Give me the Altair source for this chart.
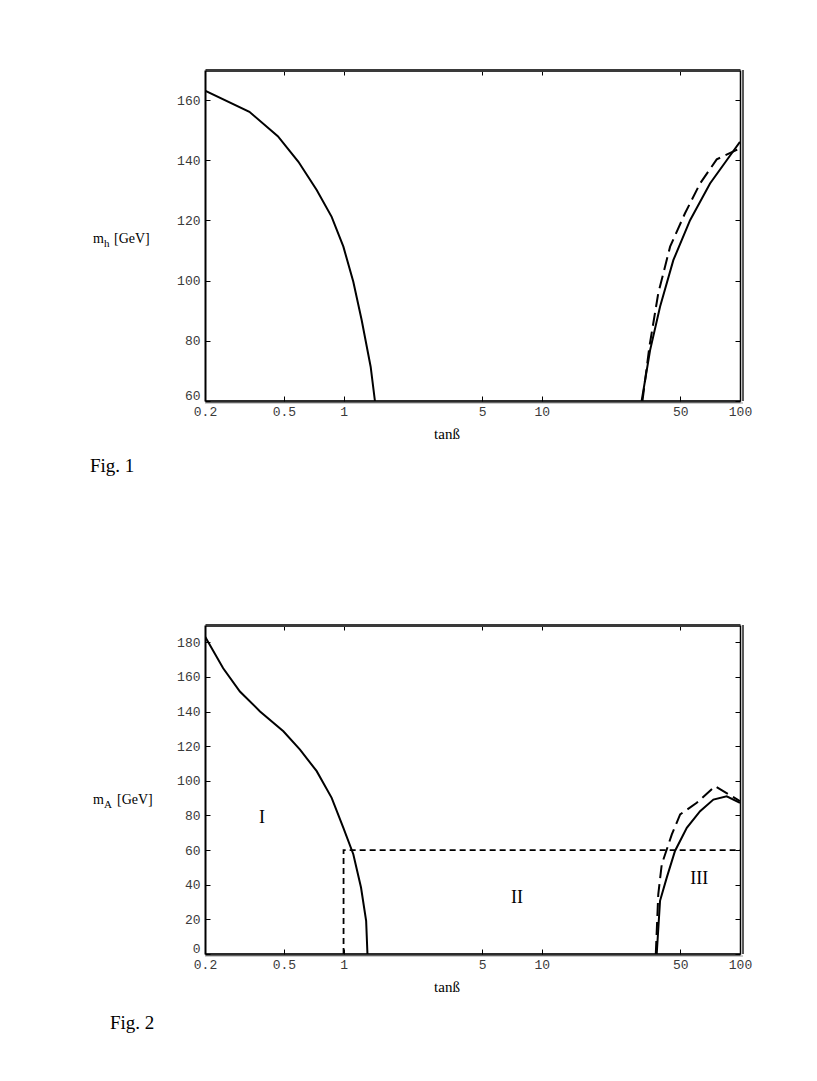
import altair as alt
import pandas as pd

# ---------------- data ----------------
# Fig. 1 : m_h vs tan(beta)
tan1_left = [0.2, 0.335, 0.466, 0.592, 0.732, 0.871, 0.998, 1.12, 1.234, 1.37, 1.44]
mh1_left = [163.1, 156.1, 148.0, 139.5, 130.1, 121.2, 111.3, 99.6, 86.9, 71.4, 60.0]

tan1_right = [31.9, 35.2, 39.5, 46.1, 56.0, 70.6, 85.7, 100.0]
mh1_right = [60.0, 76.9, 91.3, 106.8, 120.1, 132.3, 140.0, 146.1]

tan1_dash = [32.2, 34.9, 38.7, 44.4, 52.8, 62.9, 76.3, 100.0]
mh1_dash = [60.0, 78.0, 95.8, 111.3, 122.4, 132.3, 140.3, 144.0]

# Fig. 2 : m_A vs tan(beta)
tan2_left = [0.2, 0.247, 0.30, 0.379, 0.497, 0.603, 0.732, 0.871, 0.998, 1.12, 1.225, 1.30, 1.32]
mA2_left = [183.3, 165.0, 151.6, 140.1, 128.6, 118.0, 105.6, 90.2, 72.9, 57.6, 38.4, 19.2, 0.0]

tan2_right = [38.0, 39.5, 42.7, 47.0, 53.9, 62.9, 73.4, 85.7, 100.0]
mA2_right = [0.0, 30.7, 44.1, 59.5, 72.9, 82.5, 89.2, 91.1, 87.3]

tan2_dash = [37.6, 38.7, 40.3, 45.3, 49.9, 60.5, 74.8, 100.0]
mA2_dash = [0.0, 34.5, 51.8, 69.1, 80.6, 87.3, 96.9, 88.3]

# short-dashed boundary of region II
box_tan = [1.0, 1.0, 100.0]
box_m = [0.0, 60.0, 60.0]

# region labels
region_text = ["I", "II", "III"]
region_tan = [0.388, 7.5, 62.2]
region_m = [78.5, 32.4, 43.4]

# ticks
x_ticks = [0.2, 0.5, 1, 5, 10, 50, 100]
x_inner_ticks = [0.5, 1, 5, 10, 50]
y1_ticks = [60, 80, 100, 120, 140, 160]
y2_ticks = [0, 20, 40, 60, 80, 100, 120, 140, 160, 180]

# ---------------- layout ----------------
W = 535
H1 = 331
H2 = 329
MONO = "Liberation Mono"
SERIF = "Liberation Serif"


def curves(pairs):
    rows = []
    for name, xs, ys in pairs:
        for i, (a, b) in enumerate(zip(xs, ys)):
            rows.append({"series": name, "idx": i, "tan": a, "m": b})
    return pd.DataFrame(rows)


def build(H, ydom, yticks, solid_pairs, dash_pairs, ylab_sub, fig_text, fig_x, fig_dy,
          ylab_y, extra_layers):
    xs = alt.Scale(type="log", domain=[0.2, 100], nice=False)
    ys = alt.Scale(domain=ydom, nice=False, zero=False)

    main_x = alt.Axis(orient="bottom", values=x_ticks, format="~g", ticks=False,
                      domain=True, domainColor="#2b2b2b", domainWidth=3,
                      labelFont=MONO, labelFontSize=13, labelColor="#3a3a3a",
                      labelPadding=4, labelOverlap=False, labelFlush=False,
                      grid=False, title=None)
    main_y = alt.Axis(orient="left", values=yticks, ticks=False, domain=True,
                      domainColor="black", domainWidth=2, labelFont=MONO,
                      labelFontSize=13, labelColor="#3a3a3a", labelPadding=5,
                      labelOverlap=False, labelFlush=True, labelFlushOffset=1,
                      grid=False, title=None)
    up_x = alt.Axis(orient="top", offset=-H, values=x_inner_ticks, labels=False,
                    domain=False, ticks=True, tickSize=5, tickColor="black",
                    grid=False, title=None)
    down_x = alt.Axis(orient="bottom", offset=-H, values=x_inner_ticks, labels=False,
                      domain=True, domainColor="#3a3a3a", domainWidth=3, ticks=True,
                      tickSize=5, tickColor="black", grid=False, title=None)
    right_y = alt.Axis(orient="right", offset=-W, values=yticks, labels=False,
                       domain=False, ticks=True, tickSize=5, tickColor="black",
                       grid=False, title=None)
    left_y = alt.Axis(orient="left", offset=-W, values=yticks, labels=False,
                      domain=True, domainColor="black", domainWidth=1.5, ticks=True,
                      tickSize=5, tickColor="black", grid=False, title=None)

    solid = alt.Chart(curves(solid_pairs)).mark_line(
        color="black", strokeWidth=2, clip=True
    ).encode(
        x=alt.X("tan:Q", scale=xs, axis=main_x),
        y=alt.Y("m:Q", scale=ys, axis=main_y),
        detail="series:N",
        order="idx:O",
    )
    dashed = alt.Chart(curves(dash_pairs)).mark_line(
        color="black", strokeWidth=2, strokeDash=[13, 6], clip=True
    ).encode(
        x=alt.X("tan:Q", scale=xs, axis=up_x),
        y=alt.Y("m:Q", scale=ys, axis=right_y),
        detail="series:N",
        order="idx:O",
    )
    tickframe = alt.Chart(pd.DataFrame({"tan": [0.2, 100], "m": [ydom[0], ydom[1]]})).mark_point(
        opacity=0
    ).encode(
        x=alt.X("tan:Q", scale=xs, axis=down_x),
        y=alt.Y("m:Q", scale=ys, axis=left_y),
    )
    one = pd.DataFrame({"k": [0]})
    right2 = alt.Chart(one).mark_rule(color="black", strokeWidth=1.3).encode(
        x=alt.value(W + 3), y=alt.value(0), y2=alt.value(H)
    )
    bottom2 = alt.Chart(one).mark_rule(color="#9a9a9a", strokeWidth=1).encode(
        x=alt.value(0), x2=alt.value(W + 3), y=alt.value(H + 2)
    )
    m_main = alt.Chart(one).mark_text(font=SERIF, fontSize=14, align="left",
                                      baseline="alphabetic", color="black").encode(
        x=alt.value(-112), y=alt.value(ylab_y), text=alt.value("m"))
    m_sub = alt.Chart(one).mark_text(font=SERIF, fontSize=11, align="left",
                                     baseline="alphabetic", color="black").encode(
        x=alt.value(-101), y=alt.value(ylab_y + 4), text=alt.value(ylab_sub))
    m_unit = alt.Chart(one).mark_text(font=SERIF, fontSize=14, align="left",
                                      baseline="alphabetic", color="black").encode(
        x=alt.value(-91 + (3 if ylab_sub == "A" else 0)), y=alt.value(ylab_y),
        text=alt.value("[GeV]"))
    xtitle = alt.Chart(one).mark_text(font=SERIF, fontSize=15, align="center",
                                      baseline="middle", color="black").encode(
        x=alt.value(242), y=alt.value(H + 33), text=alt.value("tanß"))
    figt = alt.Chart(one).mark_text(font=SERIF, fontSize=19, align="left",
                                    baseline="middle", color="black").encode(
        x=alt.value(fig_x), y=alt.value(H + fig_dy), text=alt.value(fig_text))

    layers = [solid, dashed, tickframe, right2, bottom2, m_main, m_sub, m_unit, xtitle, figt]
    for lay in extra_layers:
        layers.append(lay(xs, ys))
    return alt.layer(*layers).resolve_axis(x="independent", y="independent").properties(
        width=W, height=H)


def box_layer(xs, ys):
    df = pd.DataFrame({"idx": list(range(len(box_tan))), "tan": box_tan, "m": box_m})
    return alt.Chart(df).mark_line(color="black", strokeWidth=1.8,
                                   strokeDash=[6, 4], clip=True).encode(
        x=alt.X("tan:Q", scale=xs, axis=None),
        y=alt.Y("m:Q", scale=ys, axis=None),
        order="idx:O",
    )


def region_layer(xs, ys):
    df = pd.DataFrame({"t": region_text, "tan": region_tan, "m": region_m})
    return alt.Chart(df).mark_text(font=SERIF, fontSize=18, color="black",
                                   baseline="middle", align="center").encode(
        x=alt.X("tan:Q", scale=xs, axis=None),
        y=alt.Y("m:Q", scale=ys, axis=None),
        text="t:N",
    )


fig1 = build(H1, [60, 170], y1_ticks,
             [("left", tan1_left, mh1_left), ("right", tan1_right, mh1_right)],
             [("dash", tan1_dash, mh1_dash)],
             "h", "Fig. 1", -115, 65, 173, [])

fig2 = build(H2, [0, 190], y2_ticks,
             [("left", tan2_left, mA2_left), ("right", tan2_right, mA2_right)],
             [("dash", tan2_dash, mA2_dash)],
             "A", "Fig. 2", -95, 69, 179, [box_layer, region_layer])

chart = alt.vconcat(fig1, fig2, spacing=146).properties(
    padding={"left": 82, "top": 59, "right": 5, "bottom": 5}
).configure_view(stroke=None)

chart.save("out.html", embed_options={"renderer": "svg", "actions": False})
